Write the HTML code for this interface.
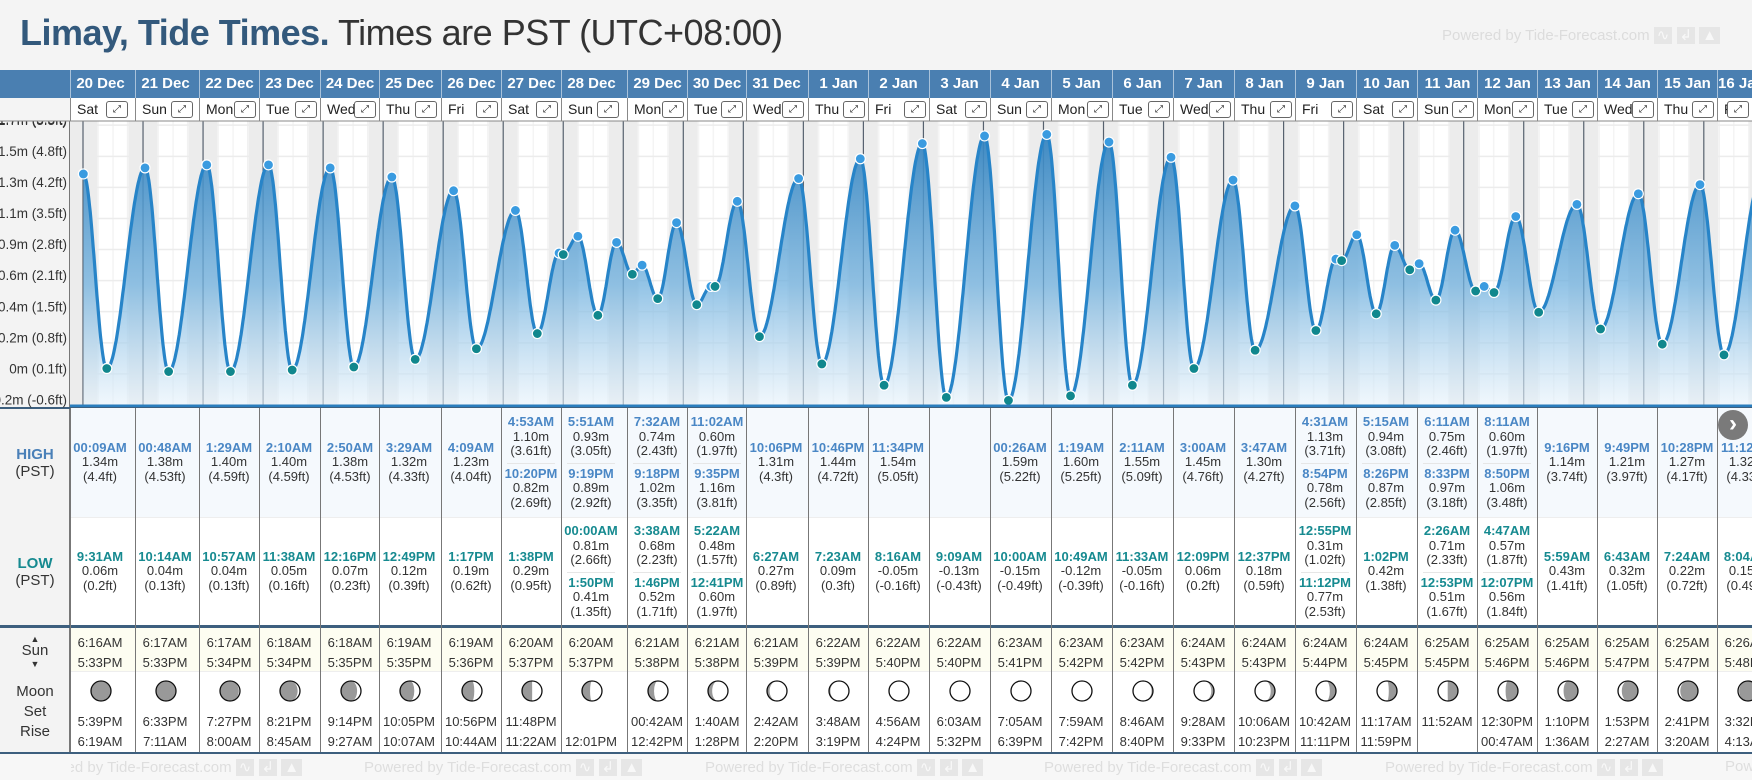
<!DOCTYPE html>
<html><head><meta charset="utf-8">
<style>
body{margin:0;width:1752px;height:780px;overflow:hidden;background:#f4f4f4;font-family:"Liberation Sans",sans-serif;position:relative}
.a{position:absolute;box-sizing:border-box}
.c{text-align:center;color:#333;font-size:13px;line-height:14.5px}
.ht{color:#4a87c5;font-weight:bold}
.lt{color:#168a90;font-weight:bold}
</style></head><body>
<div class="a" style="left:20px;top:12px;font-size:36px;white-space:nowrap;letter-spacing:-0.5px"><b style="color:#33597c">Limay, Tide Times.</b> <span style="color:#333">Times are PST (UTC+08:00)</span></div>
<div class="a" style="left:1442px;top:26px;font-size:15px;color:#dcdcdc;white-space:nowrap">Powered by Tide-Forecast.com <span style="background:#e6e6e6;color:#f8f8f8;padding:0 3px">∿</span> <span style="background:#e6e6e6;color:#f8f8f8;padding:0 3px">↲</span> <span style="background:#e6e6e6;color:#f8f8f8;padding:0 3px">▲</span></div>
<div class="a" style="left:0;top:70px;width:1752px;height:28px;background:#4a7fb1"></div>
<div class="a" style="left:0;top:98px;width:70px;height:654px;background:#f3f3f3;border-right:1px solid #777"></div>
<div class="a" style="left:0;top:752px;width:1752px;height:28px;background:#f7f7f7;border-top:2px solid #3d5f7e"></div>
<svg id="chart" class="a" style="left:0;top:0" width="1752" height="780"></svg>
<div id="tbl"></div>
<svg id="moons" class="a" style="left:0;top:0;pointer-events:none" width="1752" height="780"></svg>
<script>
// ---- data ----
const dates=["20 Dec","21 Dec","22 Dec","23 Dec","24 Dec","25 Dec","26 Dec","27 Dec","28 Dec","29 Dec","30 Dec","31 Dec","1 Jan","2 Jan","3 Jan","4 Jan","5 Jan","6 Jan","7 Jan","8 Jan","9 Jan","10 Jan","11 Jan","12 Jan","13 Jan","14 Jan","15 Jan","16 Jan"];
const dayNames=["Sat","Sun","Mon","Tue","Wed","Thu","Fri"];
const highDay=[0,1,2,3,4,5,6,7,7,8,8,9,9,10,10,11,12,13,15,16,17,18,19,20,20,21,21,22,22,23,23,24,25,26,27];
const highTime=["00:09AM","00:48AM","1:29AM","2:10AM","2:50AM","3:29AM","4:09AM","4:53AM","10:20PM","5:51AM","9:19PM","7:32AM","9:18PM","11:02AM","9:35PM","10:06PM","10:46PM","11:34PM","00:26AM","1:19AM","2:11AM","3:00AM","3:47AM","4:31AM","8:54PM","5:15AM","8:26PM","6:11AM","8:33PM","8:11AM","8:50PM","9:16PM","9:49PM","10:28PM","11:12PM"];
const highM=[1.34,1.38,1.40,1.40,1.38,1.32,1.23,1.10,0.82,0.93,0.89,0.74,1.02,0.60,1.16,1.31,1.44,1.54,1.59,1.60,1.55,1.45,1.30,1.13,0.78,0.94,0.87,0.75,0.97,0.60,1.06,1.14,1.21,1.27,1.32];
const lowDay=[0,1,2,3,4,5,6,7,8,8,9,9,10,10,11,12,13,14,15,16,17,18,19,20,20,21,22,22,23,23,24,25,26,27];
const lowTime=["9:31AM","10:14AM","10:57AM","11:38AM","12:16PM","12:49PM","1:17PM","1:38PM","00:00AM","1:50PM","3:38AM","1:46PM","5:22AM","12:41PM","6:27AM","7:23AM","8:16AM","9:09AM","10:00AM","10:49AM","11:33AM","12:09PM","12:37PM","12:55PM","11:12PM","1:02PM","2:26AM","12:53PM","4:47AM","12:07PM","5:59AM","6:43AM","7:24AM","8:04AM"];
const lowM=[0.06,0.04,0.04,0.05,0.07,0.12,0.19,0.29,0.81,0.41,0.68,0.52,0.48,0.60,0.27,0.09,-0.05,-0.13,-0.15,-0.12,-0.05,0.06,0.18,0.31,0.77,0.42,0.71,0.51,0.57,0.56,0.43,0.32,0.22,0.15];
const sunRise=["6:16AM","6:17AM","6:17AM","6:18AM","6:18AM","6:19AM","6:19AM","6:20AM","6:20AM","6:21AM","6:21AM","6:21AM","6:22AM","6:22AM","6:22AM","6:23AM","6:23AM","6:23AM","6:24AM","6:24AM","6:24AM","6:24AM","6:25AM","6:25AM","6:25AM","6:25AM","6:25AM","6:26AM"];
const sunSet=["5:33PM","5:33PM","5:34PM","5:34PM","5:35PM","5:35PM","5:36PM","5:37PM","5:37PM","5:38PM","5:38PM","5:39PM","5:39PM","5:40PM","5:40PM","5:41PM","5:42PM","5:42PM","5:43PM","5:43PM","5:44PM","5:45PM","5:45PM","5:46PM","5:46PM","5:47PM","5:47PM","5:48PM"];
const moonSet=["5:39PM","6:33PM","7:27PM","8:21PM","9:14PM","10:05PM","10:56PM","11:48PM","","00:42AM","1:40AM","2:42AM","3:48AM","4:56AM","6:03AM","7:05AM","7:59AM","8:46AM","9:28AM","10:06AM","10:42AM","11:17AM","11:52AM","12:30PM","1:10PM","1:53PM","2:41PM","3:32PM"];
const moonRise=["6:19AM","7:11AM","8:00AM","8:45AM","9:27AM","10:07AM","10:44AM","11:22AM","12:01PM","12:42PM","1:28PM","2:20PM","3:19PM","4:24PM","5:32PM","6:39PM","7:42PM","8:40PM","9:33PM","10:23PM","11:11PM","11:59PM","","00:47AM","1:36AM","2:27AM","3:20AM","4:13AM"];
const tickLabels=["-0.2m (-0.6ft)","0m (0.1ft)","0.2m (0.8ft)","0.4m (1.5ft)","0.6m (2.1ft)","0.9m (2.8ft)","1.1m (3.5ft)","1.3m (4.2ft)","1.5m (4.8ft)","1.7m (5.5ft)"];
const tickValues=[-0.18,0.025,0.229,0.434,0.638,0.843,1.047,1.252,1.456,1.661];
const colEdges=[70,135,199,259,320,379,441,501,561,627,687,746,808,868,929,990,1051,1112,1173,1234,1295,1356,1417,1477,1537,1597,1657,1717,1752];

// ---- scales ----
const X0=83, DW=60.03, CT=121, CB=407;
function hrs(s){const m=s.match(/(\d+):(\d+)(AM|PM)/);let h=+m[1]%12;if(m[3]=="PM")h+=12;return h+ +m[2]/60;}
function xOf(day,h){return X0+(day+h/24)*DW;}
function yOf(m){return 405-(m+0.18)*152;}
function ft(m){return (+(m*3.28084).toFixed(2)).toString();}
const NS="http://www.w3.org/2000/svg";
const svg=document.getElementById('chart');
const msvg=document.getElementById('moons');
function S(tag,at,parent){const e=document.createElementNS(NS,tag);for(const k in at)e.setAttribute(k,at[k]);(parent||svg).appendChild(e);return e;}

// chart background
const clip=S('clipPath',{id:'cp'});S('rect',{x:70,y:CT,width:1682,height:CB-CT},clip);
const g=S('g',{'clip-path':'url(#cp)'});

S('rect',{x:70,y:CT,width:1682,height:CB-CT,fill:'#fff'},g);
S('rect',{x:70,y:CT,width:X0-70+DW*hrs(sunRise[0])/24,height:CB-CT,fill:'#ececec'},g);
for(let d=0;d<dates.length;d++){
  const s=xOf(d,hrs(sunSet[d])),e=xOf(d+1,hrs(sunRise[Math.min(d+1,dates.length-1)]));
  const r=S('rect',{x:s,y:CT,width:e-s,height:CB-CT,fill:'#ececec'},g);
  
  for(const q of [6,12,18])S('line',{x1:xOf(d,q),x2:xOf(d,q),y1:CT,y2:CB,stroke:'#f4f4f4','stroke-width':1.5},g);
}
for(let k=0;k<tickValues.length;k++){const y=yOf(tickValues[k]);S('line',{x1:70,x2:1752,y1:y,y2:y,stroke:'#ececec','stroke-width':1.5},g);}
for(let d=0;d<=dates.length;d++){const x=xOf(d,0);S('line',{x1:x,x2:x,y1:CT,y2:CB,stroke:'#56616e','stroke-width':1.2},g);}
// tide curve
const ext=[];
highDay.forEach((d,i)=>ext.push({t:d*24+hrs(highTime[i]),m:highM[i],hi:1}));
lowDay.forEach((d,i)=>ext.push({t:d*24+hrs(lowTime[i]),m:lowM[i],hi:0}));
ext.sort((a,b)=>a.t-b.t);
const pts=[];
for(let i=0;i<ext.length-1;i++){const a=ext[i],b=ext[i+1];const n=Math.max(4,Math.ceil((b.t-a.t)*4));
  for(let j=0;j<n;j++){const f=j/n;const m=a.m+(b.m-a.m)*(1-Math.cos(Math.PI*f))/2;pts.push([X0+(a.t+(b.t-a.t)*f)/24*DW,yOf(m)]);}}
const L=ext[ext.length-1];pts.push([X0+L.t/24*DW,yOf(L.m)]);
const defs=S('defs',{});const gr=S('linearGradient',{id:'gf',x1:0,y1:0,x2:0,y2:1},defs);
S('stop',{offset:'0','stop-color':'#3584c0','stop-opacity':'0.95'},gr);S('stop',{offset:'0.55','stop-color':'#6fb0de','stop-opacity':'0.75'},gr);S('stop',{offset:'1','stop-color':'#e8f3fb','stop-opacity':'0.6'},gr);
const line=pts.map((p,i)=>(i?'L':'M')+p[0].toFixed(1)+','+p[1].toFixed(1)).join('');
const area=S('path',{d:line+`L${pts[pts.length-1][0]},${CB}L${pts[0][0]},${CB}Z`,fill:'url(#gf)'},g);

const lp=S('path',{d:line,fill:'none',stroke:'#2784c8','stroke-width':3.2},g);

for(const e of ext){const c=S('circle',{cx:X0+e.t/24*DW,cy:yOf(e.m),r:5,fill:e.hi?'#3a9be0':'#10878d',stroke:'#fff','stroke-width':1.2},g);
  }
S('line',{x1:70,x2:1752,y1:CB-1,y2:CB-1,stroke:'#2a7dbd','stroke-width':3});
S('line',{x1:0,x2:1752,y1:CB+1,y2:CB+1,stroke:'#3d5f7e','stroke-width':2});
// y labels
for(let k=0;k<tickLabels.length;k++){const y=405-k*31.08-5;if(y<118)continue;
  const t=S('text',{x:67,y:y+4.5,'text-anchor':'end','font-size':'13.5',fill:'#333','font-family':'Liberation Sans, sans-serif'});
  t.textContent=tickLabels[k];}
{const t=S('text',{x:67,y:124,'text-anchor':'end','font-size':'13.5',fill:'#333'});t.textContent=tickLabels[9];
 }
S('rect',{x:0,y:98,width:1752,height:23,fill:'#fff'});
S('rect',{x:0,y:98,width:70,height:23,fill:'#f4f4f4'});
S('line',{x1:0,x2:1752,y1:121,y2:121,stroke:'#888','stroke-width':1});

// moon icon helper
function moon(cx,cy,d){
  const r=10,age=d+0.3,f=(1-Math.cos(2*Math.PI*age/29.53))/2,wax=age<14.77;
  const grp=S('g',{},msvg);
  S('circle',{cx,cy,r,fill:'#999'},grp);
  const rx=Math.abs(1-2*f)*r,sw=f>0.5?1:0;
  const p=S('path',{d:`M${cx},${cy-r}A${r},${r} 0 0 1 ${cx},${cy+r}A${rx},${r} 0 0 ${sw} ${cx},${cy-r}Z`,fill:'#fff'},grp);
  if(!wax)p.setAttribute('transform',`translate(${2*cx},0) scale(-1,1)`);
  S('circle',{cx,cy,r,fill:'none',stroke:'#111','stroke-width':1.3},grp);
}

// ---- table ----
const T=document.getElementById('tbl');let h='';
h+=`<div class="a" style="left:70px;top:408px;width:1682px;height:109px;background:#f5f9fd"></div>`;
h+=`<div class="a" style="left:70px;top:627px;width:1682px;height:45px;background:#fdfdf1;border-bottom:1px solid #eee"></div>`;
h+=`<div class="a" style="left:70px;top:517px;width:1682px;height:109px;background:#fff;border-top:1px solid #eee"></div>`;
h+=`<div class="a" style="left:70px;top:672px;width:1682px;height:80px;background:#fff"></div>`;
h+=`<div class="a" style="left:0;top:625px;width:1752px;height:2.5px;background:#3d5f7e"></div>`;
h+=`<div class="a c" style="left:0;top:446px;width:70px;font-size:15px;line-height:17px"><b style="color:#4a80b8">HIGH</b><br>(PST)</div>`;
h+=`<div class="a c" style="left:0;top:555px;width:70px;font-size:15px;line-height:17px"><b style="color:#168a90">LOW</b><br>(PST)</div>`;
h+=`<div class="a c" style="left:0;top:632px;width:70px;font-size:15px;line-height:12px"><span style="font-size:9px">▲</span><br>Sun<br><span style="font-size:9px">▼</span></div>`;
h+=`<div class="a c" style="left:0;top:682px;width:70px;font-size:15px;line-height:20px">Moon<br>Set<br>Rise</div>`;
function blk(cls,t,m){return `<div><span class="${cls}">${t}</span><br>${m.toFixed(2)}m<br>(${ft(m)}ft)</div>`;}
for(let d=0;d<dates.length;d++){
  const L=colEdges[d],W=colEdges[d+1]-L,FW=60;
  h+=`<div class="a" style="left:${L}px;top:70px;width:${FW}px;height:28px;border-left:1px solid #a9c2da;color:#fff;font-weight:bold;font-size:15px;line-height:28px;text-align:center;white-space:nowrap;overflow:hidden;max-width:${W}px">${dates[d]}</div>`;
  h+=`<div class="a" style="left:${L}px;top:98px;width:${W}px;height:23px;border-left:1px solid #888;font-size:14px;line-height:23px;color:#222;padding-left:6px;white-space:nowrap;overflow:hidden">${dayNames[d%7]}<span style="position:absolute;left:${Math.min(W,61)-26}px;top:3px;width:20px;height:15px;border:1px solid #666;border-radius:3px;font-size:10px;line-height:15px;text-align:center;background:#fff">⤢</span></div>`;
  const hs=[],ls=[];highDay.forEach((x,i)=>{if(x==d)hs.push(blk('ht',highTime[i],highM[i]))});lowDay.forEach((x,i)=>{if(x==d)ls.push(blk('lt',lowTime[i],lowM[i]))});
  const sep='<div style="height:1px;background:#e6e6e6;margin:4px 6px 3px"></div>';
  const cell=(arr,top,nm)=>`<div class="a c" style="left:${L}px;top:${top}px;width:${FW}px;height:109px;display:flex;flex-direction:column;justify-content:center;white-space:nowrap;font-size:13px">${arr.join(sep)}</div>`;
  h+=cell(hs,408,'high-tide-cell');h+=cell(ls,517,'low-tide-cell');
  h+=`<div class="a" style="left:${L}px;top:408px;width:1px;height:344px;background:#777"></div>`;
  h+=`<div class="a c" style="left:${L}px;top:633px;width:${FW}px;line-height:20px;white-space:nowrap">${sunRise[d]}<br>${sunSet[d]}</div>`;
  h+=`<div class="a c" style="left:${L}px;top:712px;width:${FW}px;line-height:20px;white-space:nowrap">${moonSet[d]||'&nbsp;'}<br>${moonRise[d]||'&nbsp;'}</div>`;
  moon(L+FW/2+1,691,d);
}
for(const x of [24,364,705,1044,1385])h+=`<div class="a" style="left:${x}px;top:758px;font-size:15px;color:#dedede;white-space:nowrap;clip-path:inset(0 0 0 ${Math.max(0,71-x)}px)">Powered by Tide-Forecast.com <span style="background:#e6e6e6;color:#f8f8f8;padding:0 3px">∿</span> <span style="background:#e6e6e6;color:#f8f8f8;padding:0 3px">↲</span> <span style="background:#e6e6e6;color:#f8f8f8;padding:0 3px">▲</span></div>`;
h+=`<div class="a" style="left:1725px;top:758px;width:27px;overflow:hidden;font-size:15px;color:#dedede;white-space:nowrap">Pow</div>`;
h+=`<div class="a" style="left:1718px;top:410px;width:30px;height:30px;border-radius:50%;background:#7a7a7a;color:#fff;font-size:24px;line-height:28px;text-align:center;font-weight:bold">›</div>`;
T.innerHTML=h;
</script>
</body></html>
